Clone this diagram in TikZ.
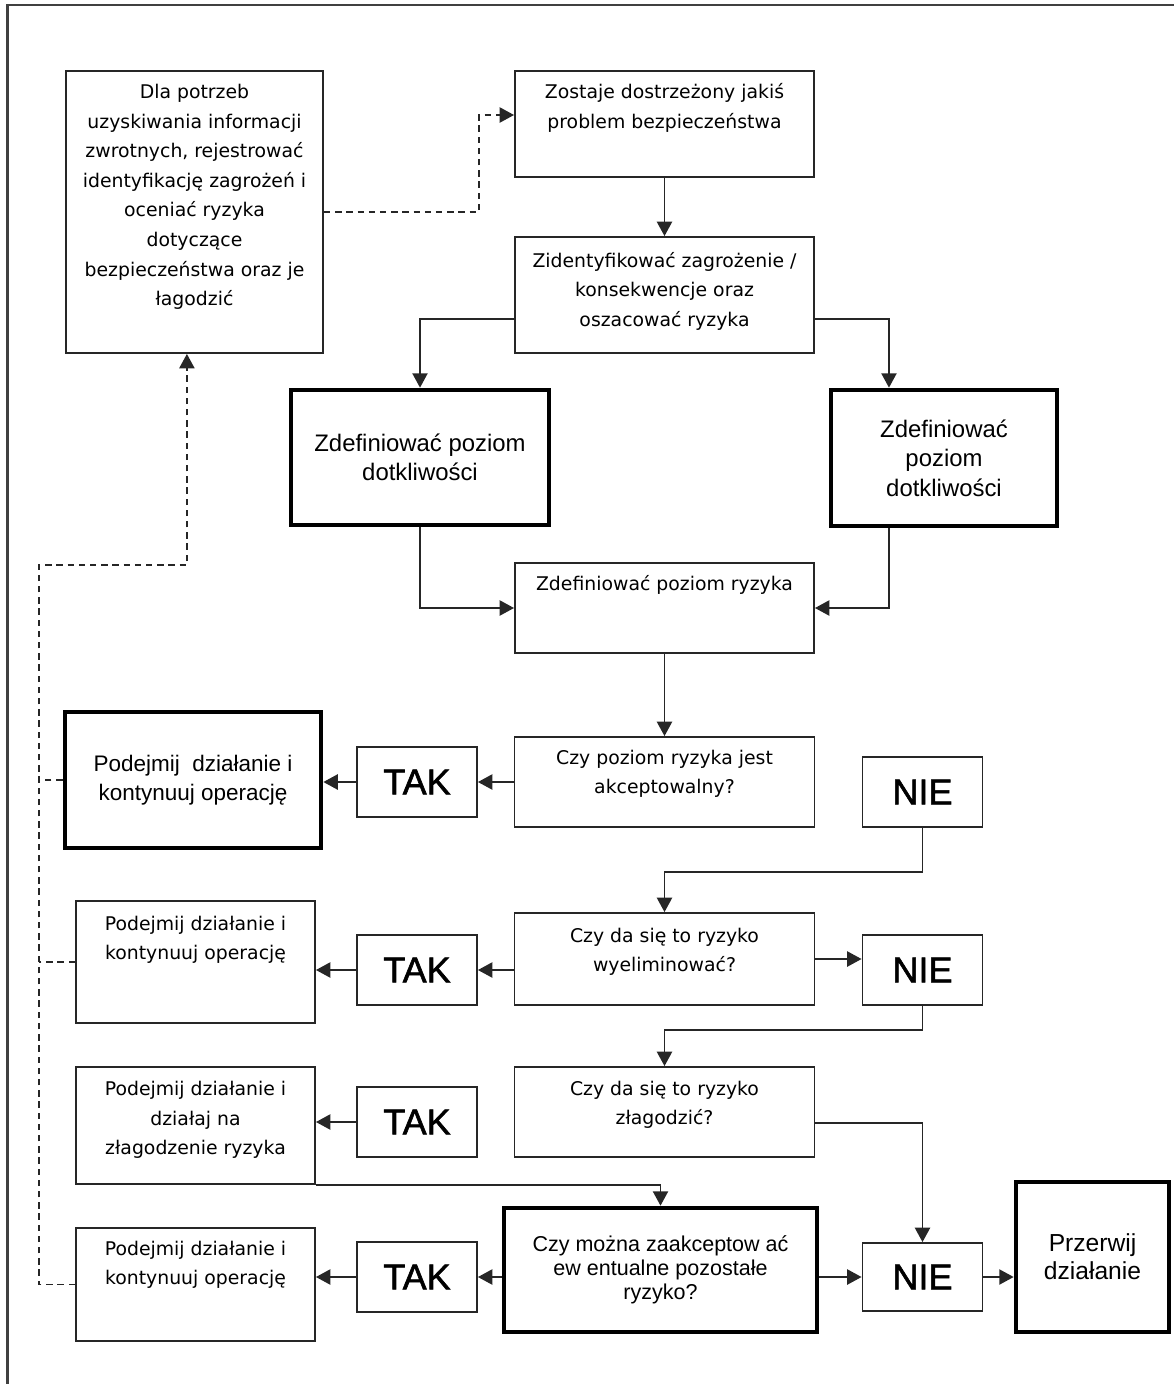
\documentclass[tikz,border=0pt]{standalone}
\usepackage{fontspec}
\setmainfont{Liberation Sans}
\newfontfamily\tahoma{DejaVu Sans}
\newfontfamily\heavy[FakeBold=1.6]{Liberation Sans}
\usetikzlibrary{arrows.meta}

\tikzset{
  box/.style={draw=black!85, line width=1.3pt, inner sep=0pt, align=center},
  bigbox/.style={draw=black, line width=3.3pt, inner sep=0pt, align=center,
    font=\fontsize{16}{20.6}\selectfont},
  tah/.style={align=center, inner sep=0pt, font=\tahoma\fontsize{13.4}{21}\selectfont},
  yesno/.style={box, minimum width=3cm, minimum height=1.75cm,
    font=\heavy\fontsize{25.6}{30}\selectfont},
  link/.style={draw=black!85, line width=1.2pt},
  tip/.style={-{Triangle[length=0.36cm,width=0.38cm]}},
  arr/.style={link, tip},
  fback/.style={link, dash pattern=on 0.16cm off 0.12cm},
}

\begin{document}
\begin{tikzpicture}[x=0.025cm, y=-0.025cm]
  \useasboundingbox (0,0) rectangle (1174,1384);
  % ramka
  \draw[black!75, line width=1.6pt] (7.5,1384) -- (7.5,5) -- (1174,5);

  % informacje zwrotne
  \node[box, minimum width=6.425cm, minimum height=7.05cm] (dla) at (194.5,212) {};
  \node[tah] (dlaT) at (194.5,197) {Dla potrzeb\\uzyskiwania informacji\\zwrotnych, rejestrować\\identyfikację zagrożeń i\\oceniać ryzyka\\dotyczące\\bezpieczeństwa oraz je\\łagodzić};

  % gorna czesc
  \node[box, minimum width=7.475cm, minimum height=2.65cm] (zost) at (664.5,124) {};
  \node[tah] (zostT) at (664.5,108) {Zostaje dostrzeżony jakiś\\problem bezpieczeństwa};
  \node[box, minimum width=7.475cm, minimum height=2.9cm] (ident) at (664.5,295) {};
  \node[tah] (identT) at (664.5,291) {Zidentyfikować zagrożenie /\\konsekwencje oraz\\oszacować ryzyka};
  \node[bigbox, minimum width=6.45cm, minimum height=3.375cm, font=\fontsize{17}{21}\selectfont] (sevL) at (420,457.5) {Zdefiniować poziom\\dotkliwości};
  \node[bigbox, minimum width=5.65cm, minimum height=3.4cm, font=\fontsize{17}{21}\selectfont] (sevR) at (944,458) {Zdefiniować\\poziom\\dotkliwości};
  \node[box, minimum width=7.475cm, minimum height=2.25cm] (ryz) at (664.5,608) {};
  \node[tah] (ryzT) at (664.5,585) {Zdefiniować poziom ryzyka};

  % pytania
  \node[box, minimum width=7.5cm, minimum height=2.25cm] (akc) at (664.5,782) {};
  \node[tah] (akcT) at (664.5,774) {Czy poziom ryzyka jest\\akceptowalny?};
  \node[box, minimum width=7.5cm, minimum height=2.3cm] (elim) at (664.5,959) {};
  \node[tah] (elimT) at (664.5,952) {Czy da się to ryzyko\\wyeliminować?};
  \node[box, minimum width=7.5cm, minimum height=2.25cm] (lagod) at (664.5,1112) {};
  \node[tah] (lagodT) at (664.5,1105) {Czy da się to ryzyko\\złagodzić?};
  \node[bigbox, minimum width=7.825cm, minimum height=3.1cm, font=\fontsize{15.3}{17}\selectfont] (mozna) at (660.5,1270) {Czy można zaakceptow ać\\ew entualne pozostałe\\ryzyko?};

  % TAK / NIE
  \node[yesno] (tak1) at (417,782) {TAK};
  \node[yesno] (tak2) at (417,970) {TAK};
  \node[yesno] (tak3) at (417,1122) {TAK};
  \node[yesno] (tak4) at (417,1277) {TAK};
  \node[yesno] (nie1) at (922.5,792) {NIE};
  \node[yesno] (nie2) at (922.5,970) {NIE};
  \node[yesno, minimum height=1.7cm] (nie3) at (922.5,1277) {NIE};

  % dzialania
  \node[bigbox, minimum width=6.4cm, minimum height=3.4cm] (dzial1) at (193,780) {Podejmij\ \ działanie i\\kontynuuj operację};
  \node[box, minimum width=5.975cm, minimum height=3.05cm] (dzial2) at (195.5,962) {};
  \node[tah] (dzial2T) at (195.5,940) {Podejmij działanie i\\kontynuuj operację};
  \node[box, minimum width=5.975cm, minimum height=2.925cm] (dzial3) at (195.5,1125.5) {};
  \node[tah] (dzial3T) at (195.5,1120) {Podejmij działanie i\\działaj na\\złagodzenie ryzyka};
  \node[box, minimum width=5.975cm, minimum height=2.825cm] (dzial4) at (195.5,1284.5) {};
  \node[tah] (dzial4T) at (195.5,1265) {Podejmij działanie i\\kontynuuj operację};
  \node[bigbox, minimum width=3.825cm, minimum height=3.75cm, font=\fontsize{17.5}{20}\selectfont] (przerw) at (1092.5,1257) {Przerwij\\działanie};

  % polaczenia
  \draw[arr] (zost.south) -- (ident.north);
  \draw[arr] ([yshift=-0.6cm]ident.west) -| (sevL.north);
  \draw[arr] ([yshift=-0.6cm]ident.east) -| ([xshift=-1.375cm]sevR.north);
  \draw[arr] (sevL.south) |- (ryz.west);
  \draw[arr] ([xshift=-1.375cm]sevR.south) |- (ryz.east);
  \draw[arr] (ryz.south) -- (akc.north);
  \draw[arr] (akc.west) -- (tak1.east);
  \draw[arr] (tak1.west) -- (tak1.west -| dzial1.east);
  \draw[arr] (nie1.south) -- ++(0,44) -| (elim.north);
  \draw[arr] (elim.east) -- (elim.east -| nie2.west);
  \draw[arr] (tak2.east -| elim.west) -- (tak2.east);
  \draw[arr] (tak2.west) -- (tak2.west -| dzial2.east);
  \draw[arr] (nie2.south) -- ++(0,24) -| (lagod.north);
  \draw[arr] ([yshift=-0.275cm]lagod.east) -| (nie3.north);
  \draw[arr] (tak3.west) -- (tak3.west -| dzial3.east);
  \draw[arr] (dzial3.south east) -| (mozna.north);
  \draw[arr] (tak4.east -| mozna.west) -- (tak4.east);
  \draw[arr] (tak4.west) -- (tak4.west -| dzial4.east);
  \draw[arr] (mozna.east |- nie3.west) -- (nie3.west);
  \draw[arr] (nie3.east) -- (nie3.east -| przerw.west);

  % petla informacji zwrotnych
  \coordinate (fb) at (39,565);
  \draw[fback] (dzial1.west) -- (dzial1.west -| fb);
  \draw[fback] (dzial2.west) -- (dzial2.west -| fb);
  \draw[fback, tip] (dzial4.west) -| (fb) -| ([xshift=-0.19cm]dla.south);
  \draw[fback, tip] (dla.east) -- ++(155,0) |- ([yshift=0.225cm]zost.west);
\end{tikzpicture}
\end{document}
